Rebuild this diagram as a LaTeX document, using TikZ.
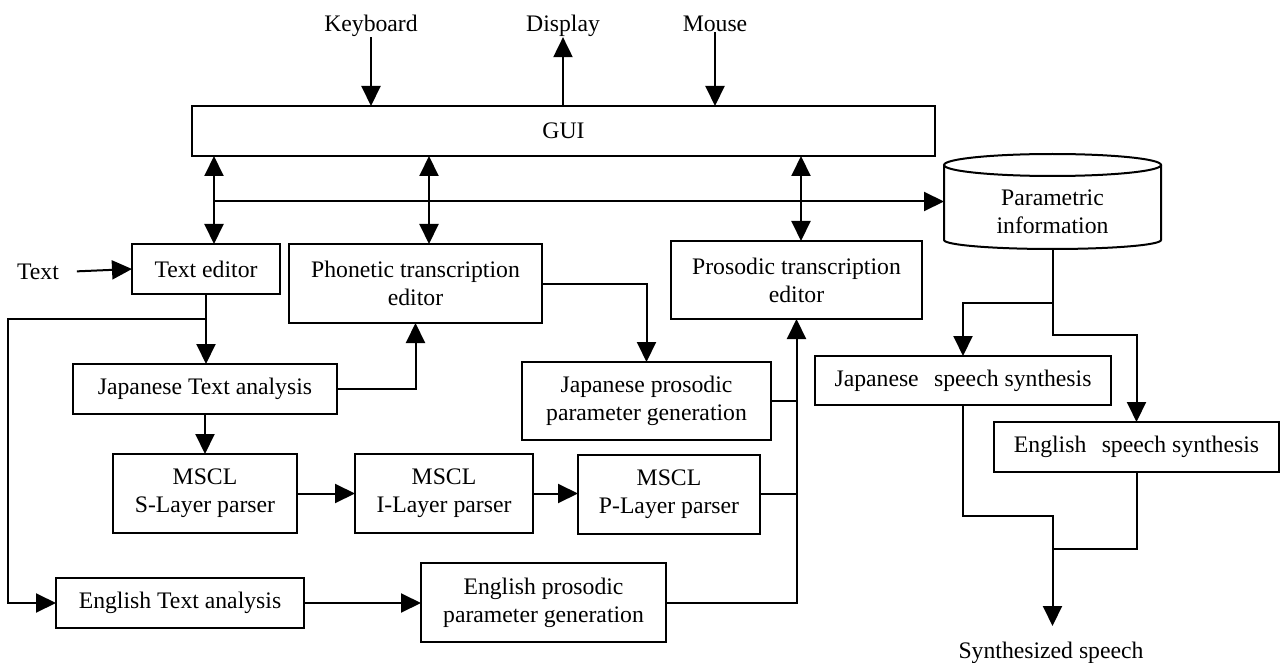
\documentclass[tikz,border=0pt]{standalone}
\usepackage{fontspec}
\setmainfont{Liberation Serif}
\usetikzlibrary{arrows.meta,calc}
\begin{document}
\begin{tikzpicture}[x=1pt,y=-1pt,
  every node/.style={font=\fontsize{23.7}{28}\selectfont, inner sep=0pt, outer sep=0pt},
  box/.style={draw, line width=2pt, align=center},
  ln/.style={line width=2pt},
  arr/.style={line width=2pt, -{Triangle[length=20pt,width=19pt]}},
  darr/.style={line width=2pt, {Triangle[length=20pt,width=19pt]}-{Triangle[length=20pt,width=19pt]}}]
\useasboundingbox (0,0) rectangle (1282,663);

% labels
\node[anchor=base] (kb) at (371,32) {Keyboard};
\node[anchor=base] (disp) at (563,32) {Display};
\node[anchor=base] (mouse) at (715,32) {Mouse};
\node[anchor=base] (txt) at (38,279) {Text};
\node[anchor=base] (syn) at (1051,658) {Synthesized speech};

% boxes
\node[box, minimum width=743pt, minimum height=50pt] (gui) at (563.5,131) {GUI};
\node[box, minimum width=148pt, minimum height=50pt] (ted) at (206,269) {Text editor};
\node[box, minimum width=253pt, minimum height=79pt] (pho) at (415.5,283.5) {Phonetic transcription\\editor};
\node[box, minimum width=251pt, minimum height=78pt] (pros) at (796.5,280) {Prosodic transcription\\editor};
\node[box, minimum width=264pt, minimum height=50pt] (jta) at (205,389) {Japanese Text analysis};
\node[box, minimum width=249pt, minimum height=78pt] (jpp) at (646.5,401) {Japanese prosodic\\parameter generation};
\node[box, minimum width=184pt, minimum height=79pt] (ms) at (205,493.5) {MSCL\\S-Layer parser};
\node[box, minimum width=178pt, minimum height=79pt] (mi) at (444,493.5) {MSCL\\I-Layer parser};
\node[box, minimum width=182pt, minimum height=79pt] (mp) at (669,494) {MSCL\\P-Layer parser};
\node[box, minimum width=248pt, minimum height=50pt] (eta) at (180,603) {English Text analysis};
\node[box, minimum width=245pt, minimum height=79pt] (epp) at (543.5,602.5) {English prosodic\\parameter generation};
\node[box, minimum width=296pt, minimum height=49pt] (jss) at (963,380.5) {Japanese\hspace{0.4em} speech synthesis};
\node[box, minimum width=285pt, minimum height=50pt] (ess) at (1136.5,447) {English\hspace{0.4em} speech synthesis};

% cylinder
\node[minimum width=217pt, minimum height=95pt] (param) at (1052.5,201.5) {};
\draw[ln] (1052.5,165) ellipse [x radius=108.5pt, y radius=11pt];
\draw[ln] (944,165) -- (944,240) arc [start angle=180, end angle=360, x radius=108.5pt, y radius=9pt] -- (1161,165);
\node[align=center] (ptxt) at (1052.5,212) {Parametric\\information};

% GUI I/O
\draw[arr] (kb.south) -- (kb.south |- gui.north);
\draw[arr] (gui.north -| disp.south) -- (disp.south);
\draw[arr] (mouse.south) -- (mouse.south |- gui.north);

% GUI <-> editors
\coordinate (t1) at ([xshift=8pt]ted.north);
\coordinate (p1) at ([xshift=13.5pt]pho.north);
\coordinate (r1) at ([xshift=4.5pt]pros.north);
\draw[darr] (t1) -- (t1 |- gui.south);
\draw[darr] (p1) -- (p1 |- gui.south);
\draw[darr] (r1) -- (r1 |- gui.south);
\coordinate (busL) at (214,201.5);
\draw[arr] (busL) -- (param.west);

% text input
\draw[arr] ([xshift=18pt]txt.east) -- (ted.west);

% text editor outputs
\draw[arr] (ted.south) -- (ted.south |- jta.north);
\coordinate (br) at (206,319);
\coordinate (lft) at (8,319);
\draw[arr] (br) -- (lft) |- (eta.west);

% Japanese chain
\draw[arr] (jta.east) -| (pho.south);
\draw[arr] (pho.east) -| (jpp.north);
\draw[arr] (jta.south) -- (jta.south |- ms.north);
\draw[arr] (ms.east) -- (mi.west);
\draw[arr] (mi.east) -- (mp.west |- mi.east);
\draw[ln] (mp.east) -- (mp.east -| pros.south);
\draw[ln] (jpp.east) -- (jpp.east -| pros.south);

% English chain
\draw[arr] (eta.east) -- (eta.east -| epp.west);
\draw[arr] (epp.east) -| (pros.south);

% synthesis
\coordinate (pj) at (1052.5,303);
\coordinate (pe) at (1052.5,335);
\draw[arr] (param.south) -- (pj) -| (jss.north);
\draw[arr] (pj) -- (pe) -| (ess.north);
\coordinate (mj) at (1052.5,516);
\coordinate (me) at (1052.5,549);
\coordinate (out) at (1052.5,626);
\draw[arr] (jss.south) |- (mj) -- (out);
\draw[ln] (ess.south) |- (me);
\end{tikzpicture}
\end{document}
